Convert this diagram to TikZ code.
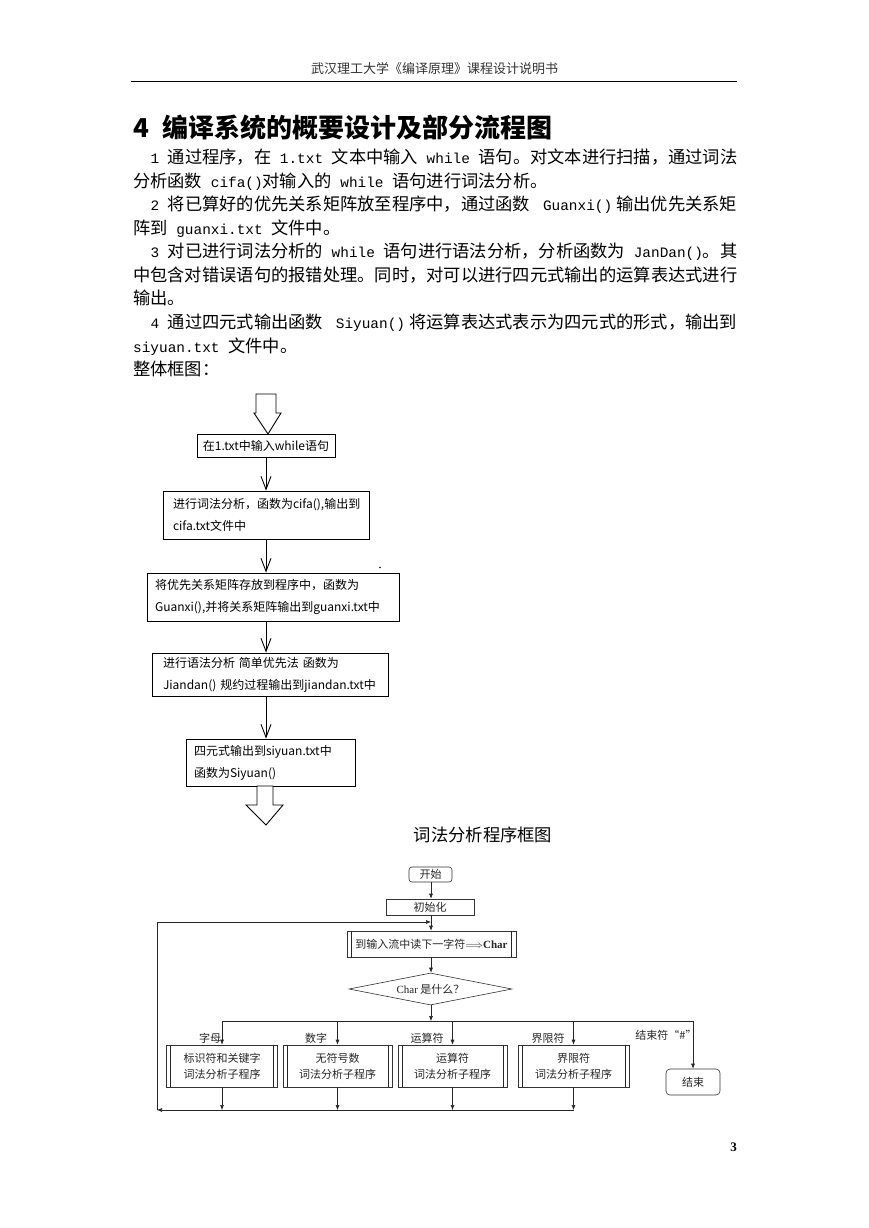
\documentclass[tikz,border=0pt]{standalone}
\usepackage{fontspec}
\setmainfont{Liberation Serif}
\newfontfamily\cjk{Noto Sans CJK SC}
\newfontfamily\bodymono{Liberation Mono}
\newfontfamily\lserif{Liberation Serif}
\usetikzlibrary{arrows.meta,shapes.geometric}
\newcommand\bodymt[1]{{\bodymono\fontsize{14.4}{16}\selectfont#1}}
\newcommand\hs{\hskip 8.63pt plus 1pt\relax}
\newcommand\hsn{\hskip 8.63pt\relax}
\newcommand\hx{\hskip 0pt plus 1pt\relax}
\begin{document}
\begin{tikzpicture}[x=1pt,y=-1pt,
  body/.style={anchor=base west, inner sep=0pt, font=\cjk\fontsize{17.26}{20}\selectfont},
  boxa/.style={draw=black, line width=0.9pt, inner ysep=0pt, font=\cjk\fontsize{12}{22}\selectfont, align=left},
  varrow/.style={draw=black, line width=0.9pt, -{Straight Barb[length=13pt,width=10pt]}},
  blockarrow/.style={draw=black, line width=0.9pt, fill=white, line join=miter},
  fbox/.style={draw=black!80, line width=0.6pt, font=\cjk\fontsize{11}{16}\selectfont, text=black!85, inner sep=0pt, align=center},
  lab/.style={font=\cjk\fontsize{11}{13}\selectfont, text=black!85, inner sep=0pt},
  farrow/.style={draw=black!85, line width=0.6pt, -{Latex[length=5pt,width=4pt]}},
  fline/.style={draw=black!85, line width=0.6pt},
]
\fill[white] (0,0) rectangle (869,1228);
\useasboundingbox (0,0) rectangle (869,1228);

% header
\node[font=\cjk\fontsize{13}{15}\selectfont, text=black!80, anchor=base, inner sep=0pt] (hdr) at (434.5,74) {武汉理工大学《编译原理》课程设计说明书};
\coordinate (rl) at (131,81);
\coordinate (rr) at (737,81);
\draw[line width=0.9pt] (rl) -- (rr);

% title
\node[anchor=base west, inner sep=0pt, font=\cjk\bfseries\fontsize{26}{30}\selectfont] (title) at (133,138) {4\hspace{13pt}编译系统的概要设计及部分流程图};

% body
\node[body] (p1) at (150.3,163.5) {\makebox[586.7pt][s]{\bodymt{1}\hsn 通过程序，在\hs\bodymt{1.txt}\hs 文本中输入\hs\bodymt{while}\hs 语句。对文本进行扫描，通过词法}};
\node[body] (p2) at (133,187.1) {分析函数\hs\bodymt{cifa()}对输入的\hs\bodymt{while}\hs 语句进行词法分析。};
\node[body] (p3) at (150.3,210.6) {\makebox[586.7pt][s]{\bodymt{2}\hsn 将已算好的优先关系矩阵放至程序中，通过函数\hs\bodymt{Guanxi()}\hx 输出优先关系矩}};
\node[body] (p4) at (133,234.2) {阵到\hs\bodymt{guanxi.txt}\hs 文件中。};
\node[body] (p5) at (150.3,257.7) {\makebox[586.7pt][s]{\bodymt{3}\hsn 对已进行词法分析的\hs\bodymt{while}\hs 语句进行语法分析，分析函数为\hs\bodymt{JanDan()}。其}};
\node[body] (p6) at (133,281.3) {中包含对错误语句的报错处理。同时，对可以进行四元式输出的运算表达式进行};
\node[body] (p7) at (133,304.9) {输出。};
\node[body] (p8) at (150.3,328.4) {\makebox[586.7pt][s]{\bodymt{4}\hsn 通过四元式输出函数\hs\bodymt{Siyuan()}\hx 将运算表达式表示为四元式的形式，输出到}};
\node[body] (p9) at (133,352.0) {\bodymt{siyuan.txt}\hs 文件中。};
\node[body] (p10) at (133,375.5) {整体框图：};

% diagram 1
\node[boxa, minimum width=138pt, minimum height=23pt, inner xsep=0pt, align=center] (d1) at (266,445.5) {在1.txt中输入while语句};
\node[boxa, minimum width=206pt, minimum height=48pt, text width=186pt, inner xsep=10pt] (d2) at (266,515) {进行词法分析，函数为cifa(),输出到\\cifa.txt文件中};
\node[boxa, minimum width=252pt, minimum height=48pt, text width=236pt, inner xsep=8pt] (d3) at (273,597) {将优先关系矩阵存放到程序中，函数为\\Guanxi(),并将关系矩阵输出到guanxi.txt中};
\node[boxa, minimum width=236pt, minimum height=43pt, text width=214pt, inner xsep=11pt] (d4) at (270,674.5) {进行语法分析 简单优先法 函数为\\Jiandan() 规约过程输出到jiandan.txt中};
\node[boxa, minimum width=169pt, minimum height=47pt, text width=153pt, inner xsep=8pt] (d5) at (270.5,762.5) {四元式输出到siyuan.txt中\\函数为Siyuan()};

\draw[varrow] (d1.south) -- (d2.north);
\draw[varrow] (d2.south) -- (d2.south |- d3.north);
\draw[varrow] (d2.south |- d3.south) -- (d2.south |- d4.north);
\draw[varrow] (d2.south |- d4.south) -- (d2.south |- d5.north);

\draw[blockarrow] (256,394) -- (276,394) -- (276,413) -- (281,413) -- (268,434) -- (254,413) -- (256,413) -- cycle;
\draw[blockarrow] (257,786) -- (273,786) -- (273,805) -- (283,805) -- (266,825) -- (246,805) -- (257,805) -- cycle;
\fill (380,567.5) circle (0.9pt);

% caption
\node[anchor=base, font=\cjk\fontsize{17.3}{20}\selectfont, inner sep=0pt] (cap) at (483,841.5) {词法分析程序框图};

% diagram 2
\coordinate (cx) at (431,0);
\node[fbox, rounded corners=3pt, minimum width=43pt, minimum height=15pt] (st) at (430.5,874.5) {开始};
\node[fbox, minimum width=88pt, minimum height=16pt] (ini) at (430,907) {初始化};
\node[fbox, minimum width=169pt, minimum height=26pt] (rd) at (431.5,944) {到输入流中读下一字符\(\Longrightarrow\){\lserif\bfseries Char}};
\draw[fline] ([xshift=5pt]rd.north west) -- ([xshift=5pt]rd.south west);
\draw[fline] ([xshift=-5pt]rd.north east) -- ([xshift=-5pt]rd.south east);
\node[fbox, diamond, aspect=5.1, minimum width=163pt, minimum height=32pt] (dm) at (430.5,989) {{\lserif Char} 是什么？};

\draw[farrow] (cx |- st.south) -- (cx |- ini.north);
\draw[farrow] (cx |- ini.south) -- (cx |- rd.north);
\draw[farrow] (cx |- rd.south) -- (cx |- dm.north);

\coordinate (j) at (431,1021);
\draw[farrow] (cx |- dm.south) -- (cx |- j);

\node[fbox, minimum width=111pt, minimum height=42pt] (ba) at (222,1066) {标识符和关键字\\词法分析子程序};
\node[fbox, minimum width=109pt, minimum height=42pt] (bb) at (337.5,1066) {无符号数\\词法分析子程序};
\node[fbox, minimum width=109pt, minimum height=42pt] (bc) at (452.5,1066) {运算符\\词法分析子程序};
\node[fbox, minimum width=111pt, minimum height=42pt] (bd) at (573.5,1066) {界限符\\词法分析子程序};
\foreach \b in {ba,bb,bc,bd}{
  \draw[fline] ([xshift=4.5pt]\b.north west) -- ([xshift=4.5pt]\b.south west);
  \draw[fline] ([xshift=-4.5pt]\b.north east) -- ([xshift=-4.5pt]\b.south east);
}
\node[fbox, rounded corners=4pt, minimum width=54pt, minimum height=26pt] (en) at (693,1082) {结束};

\draw[fline] (ba.north |- j) -- (en.north |- j);
\foreach \b in {ba,bb,bc,bd,en}{
  \draw[farrow] (\b.north |- j) -- (\b.north);
}

\node[lab] (l1) at (210,1038) {字母};
\node[lab] (l2) at (316,1038) {数字};
\node[lab] (l3) at (427,1038) {运算符};
\node[lab] (l4) at (548,1038) {界限符};
\node[lab] (l5) at (666,1035) {结束符“\#”};

\coordinate (bl) at (157,1110);
\coordinate (lt) at (157,922);
\foreach \b in {ba,bb,bc,bd}{
  \draw[farrow] (\b.south) -- (\b.south |- bl);
}
\draw[farrow] (bd.south |- bl) -- (bl);
\draw[farrow] (bl) -- (lt) -- (cx |- lt);

% page number
\node[anchor=base east, font=\lserif\bfseries\fontsize{13}{15}\selectfont, inner sep=0pt] (pg) at (737,1151) {3};
\end{tikzpicture}
\end{document}
